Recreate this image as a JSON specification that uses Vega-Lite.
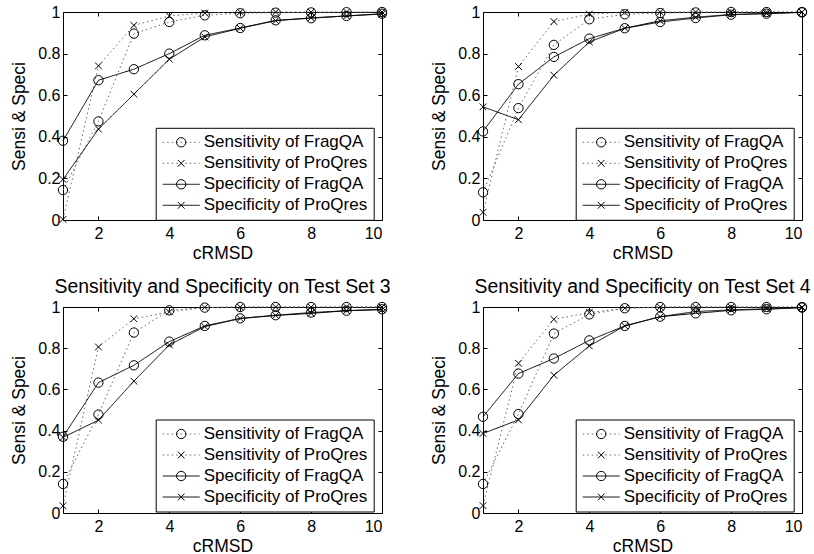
{
  "$schema": "https://vega.github.io/schema/vega-lite/v6.json",
  "background": "white",
  "padding": {"left": 10, "top": 3, "right": 0, "bottom": 0},
  "datasets": {
    "set1": [
      {"cRMSD": 1, "Sensitivity of FragQA": 0.144, "Sensitivity of ProQres": 0.003, "Specificity of FragQA": 0.381, "Specificity of ProQres": 0.195},
      {"cRMSD": 2, "Sensitivity of FragQA": 0.474, "Sensitivity of ProQres": 0.741, "Specificity of FragQA": 0.672, "Specificity of ProQres": 0.437},
      {"cRMSD": 3, "Sensitivity of FragQA": 0.896, "Sensitivity of ProQres": 0.936, "Specificity of FragQA": 0.725, "Specificity of ProQres": 0.605},
      {"cRMSD": 4, "Sensitivity of FragQA": 0.952, "Sensitivity of ProQres": 0.981, "Specificity of FragQA": 0.8, "Specificity of ProQres": 0.773},
      {"cRMSD": 5, "Sensitivity of FragQA": 0.984, "Sensitivity of ProQres": 0.995, "Specificity of FragQA": 0.888, "Specificity of ProQres": 0.88},
      {"cRMSD": 6, "Sensitivity of FragQA": 0.994, "Sensitivity of ProQres": 1.0, "Specificity of FragQA": 0.923, "Specificity of ProQres": 0.922},
      {"cRMSD": 7, "Sensitivity of FragQA": 0.997, "Sensitivity of ProQres": 1.0, "Specificity of FragQA": 0.96, "Specificity of ProQres": 0.958},
      {"cRMSD": 8, "Sensitivity of FragQA": 0.998, "Sensitivity of ProQres": 1.0, "Specificity of FragQA": 0.97, "Specificity of ProQres": 0.972},
      {"cRMSD": 9, "Sensitivity of FragQA": 0.999, "Sensitivity of ProQres": 1.0, "Specificity of FragQA": 0.981, "Specificity of ProQres": 0.981},
      {"cRMSD": 10, "Sensitivity of FragQA": 1.0, "Sensitivity of ProQres": 1.0, "Specificity of FragQA": 0.992, "Specificity of ProQres": 0.99}
    ],
    "set2": [
      {"cRMSD": 1, "Sensitivity of FragQA": 0.133, "Sensitivity of ProQres": 0.037, "Specificity of FragQA": 0.426, "Specificity of ProQres": 0.544},
      {"cRMSD": 2, "Sensitivity of FragQA": 0.538, "Sensitivity of ProQres": 0.738, "Specificity of FragQA": 0.653, "Specificity of ProQres": 0.482},
      {"cRMSD": 3, "Sensitivity of FragQA": 0.842, "Sensitivity of ProQres": 0.954, "Specificity of FragQA": 0.784, "Specificity of ProQres": 0.696},
      {"cRMSD": 4, "Sensitivity of FragQA": 0.965, "Sensitivity of ProQres": 0.99, "Specificity of FragQA": 0.872, "Specificity of ProQres": 0.856},
      {"cRMSD": 5, "Sensitivity of FragQA": 0.989, "Sensitivity of ProQres": 0.998, "Specificity of FragQA": 0.922, "Specificity of ProQres": 0.922},
      {"cRMSD": 6, "Sensitivity of FragQA": 0.995, "Sensitivity of ProQres": 1.0, "Specificity of FragQA": 0.952, "Specificity of ProQres": 0.958},
      {"cRMSD": 7, "Sensitivity of FragQA": 0.998, "Sensitivity of ProQres": 1.0, "Specificity of FragQA": 0.971, "Specificity of ProQres": 0.975},
      {"cRMSD": 8, "Sensitivity of FragQA": 1.0, "Sensitivity of ProQres": 1.0, "Specificity of FragQA": 0.987, "Specificity of ProQres": 0.988},
      {"cRMSD": 9, "Sensitivity of FragQA": 1.0, "Sensitivity of ProQres": 1.0, "Specificity of FragQA": 0.992, "Specificity of ProQres": 0.993},
      {"cRMSD": 10, "Sensitivity of FragQA": 1.0, "Sensitivity of ProQres": 1.0, "Specificity of FragQA": 0.998, "Specificity of ProQres": 0.999}
    ],
    "set3": [
      {"cRMSD": 1, "Sensitivity of FragQA": 0.141, "Sensitivity of ProQres": 0.035, "Specificity of FragQA": 0.37, "Specificity of ProQres": 0.367},
      {"cRMSD": 2, "Sensitivity of FragQA": 0.478, "Sensitivity of ProQres": 0.806, "Specificity of FragQA": 0.633, "Specificity of ProQres": 0.451},
      {"cRMSD": 3, "Sensitivity of FragQA": 0.876, "Sensitivity of ProQres": 0.943, "Specificity of FragQA": 0.717, "Specificity of ProQres": 0.64},
      {"cRMSD": 4, "Sensitivity of FragQA": 0.984, "Sensitivity of ProQres": 0.976, "Specificity of FragQA": 0.832, "Specificity of ProQres": 0.816},
      {"cRMSD": 5, "Sensitivity of FragQA": 0.997, "Sensitivity of ProQres": 0.998, "Specificity of FragQA": 0.908, "Specificity of ProQres": 0.905},
      {"cRMSD": 6, "Sensitivity of FragQA": 1.0, "Sensitivity of ProQres": 1.0, "Specificity of FragQA": 0.945, "Specificity of ProQres": 0.944},
      {"cRMSD": 7, "Sensitivity of FragQA": 1.0, "Sensitivity of ProQres": 1.0, "Specificity of FragQA": 0.96, "Specificity of ProQres": 0.959},
      {"cRMSD": 8, "Sensitivity of FragQA": 1.0, "Sensitivity of ProQres": 1.0, "Specificity of FragQA": 0.973, "Specificity of ProQres": 0.969},
      {"cRMSD": 9, "Sensitivity of FragQA": 1.0, "Sensitivity of ProQres": 1.0, "Specificity of FragQA": 0.982, "Specificity of ProQres": 0.982},
      {"cRMSD": 10, "Sensitivity of FragQA": 1.0, "Sensitivity of ProQres": 1.0, "Specificity of FragQA": 0.989, "Specificity of ProQres": 0.987}
    ],
    "set4": [
      {"cRMSD": 1, "Sensitivity of FragQA": 0.141, "Sensitivity of ProQres": 0.036, "Specificity of FragQA": 0.467, "Specificity of ProQres": 0.386},
      {"cRMSD": 2, "Sensitivity of FragQA": 0.48, "Sensitivity of ProQres": 0.727, "Specificity of FragQA": 0.677, "Specificity of ProQres": 0.452},
      {"cRMSD": 3, "Sensitivity of FragQA": 0.871, "Sensitivity of ProQres": 0.94, "Specificity of FragQA": 0.75, "Specificity of ProQres": 0.669},
      {"cRMSD": 4, "Sensitivity of FragQA": 0.964, "Sensitivity of ProQres": 0.973, "Specificity of FragQA": 0.838, "Specificity of ProQres": 0.811},
      {"cRMSD": 5, "Sensitivity of FragQA": 0.994, "Sensitivity of ProQres": 0.994, "Specificity of FragQA": 0.908, "Specificity of ProQres": 0.908},
      {"cRMSD": 6, "Sensitivity of FragQA": 1.0, "Sensitivity of ProQres": 1.0, "Specificity of FragQA": 0.953, "Specificity of ProQres": 0.953},
      {"cRMSD": 7, "Sensitivity of FragQA": 1.0, "Sensitivity of ProQres": 1.0, "Specificity of FragQA": 0.969, "Specificity of ProQres": 0.978},
      {"cRMSD": 8, "Sensitivity of FragQA": 1.0, "Sensitivity of ProQres": 1.0, "Specificity of FragQA": 0.984, "Specificity of ProQres": 0.986},
      {"cRMSD": 9, "Sensitivity of FragQA": 1.0, "Sensitivity of ProQres": 1.0, "Specificity of FragQA": 0.989, "Specificity of ProQres": 0.991},
      {"cRMSD": 10, "Sensitivity of FragQA": 1.0, "Sensitivity of ProQres": 1.0, "Specificity of FragQA": 0.997, "Specificity of ProQres": 0.997}
    ]
  },
  "columns": 2,
  "spacing": {"row": 87, "column": 101},
  "bounds": "flush",
  "resolve": {
    "scale": {"color": "independent", "shape": "independent", "strokeDash": "independent"},
    "legend": {"color": "independent", "shape": "independent", "strokeDash": "independent"}
  },
  "concat": [
    {
      "width": 319, "height": 208,
      "data": {"name": "set1"},
      "transform": [{"fold": ["Sensitivity of FragQA", "Sensitivity of ProQres", "Specificity of FragQA", "Specificity of ProQres"], "as": ["series", "value"]}],
      "resolve": {"axis": {"x": "independent", "y": "independent"}},
      "layer": [
        {
          "mark": {"type": "line", "strokeWidth": 1},
          "encoding": {
            "x": {"field": "cRMSD", "type": "quantitative", "scale": {"domain": [1, 10], "nice": false, "zero": false}, "axis": {"orient": "bottom", "title": "cRMSD", "values": [2, 4, 6, 8, 10]}},
            "y": {"field": "value", "type": "quantitative", "scale": {"domain": [0, 1], "nice": false}, "axis": {"orient": "left", "title": "Sensi & Speci", "values": [0, 0.2, 0.4, 0.6, 0.8, 1], "format": "~g"}},
            "color": {"field": "series", "type": "nominal", "scale": {"domain": ["Sensitivity of FragQA", "Sensitivity of ProQres", "Specificity of FragQA", "Specificity of ProQres"], "range": ["#666666", "#666666", "#000000", "#000000"]}, "legend": {"orient": "none", "legendX": 92.7, "legendY": 115.8, "title": null, "padding": 6, "rowPadding": 3, "symbolType": "M-2.3125,0H2.3125", "symbolSize": 256, "symbolStrokeWidth": 1, "symbolOffset": 11, "labelOffset": 14, "labelFontSize": 17, "labelLimit": 0, "strokeColor": "black", "fillColor": "white"}},
            "strokeDash": {"field": "series", "type": "nominal", "scale": {"domain": ["Sensitivity of FragQA", "Sensitivity of ProQres", "Specificity of FragQA", "Specificity of ProQres"], "range": [[1.5, 3], [1.5, 3], [1, 0], [1, 0]]}, "legend": {"orient": "none", "legendX": 92.7, "legendY": 115.8, "title": null, "padding": 6, "rowPadding": 3, "symbolType": "M-2.3125,0H2.3125", "symbolSize": 256, "symbolStrokeWidth": 1, "symbolOffset": 11, "labelOffset": 14, "labelFontSize": 17, "labelLimit": 0, "strokeColor": "black", "fillColor": "white"}}
          }
        },
        {
          "mark": {"type": "point", "filled": false, "size": 87, "strokeWidth": 1, "color": "black", "opacity": 1},
          "encoding": {
            "x": {"field": "cRMSD", "type": "quantitative", "axis": {"orient": "top", "labels": false, "title": null, "values": [2, 4, 6, 8]}},
            "y": {"field": "value", "type": "quantitative", "axis": {"orient": "right", "labels": false, "title": null, "values": [0.2, 0.4, 0.6, 0.8]}},
            "shape": {"field": "series", "type": "nominal", "scale": {"range": ["circle", "M-0.72,-0.72L0.72,0.72M-0.72,0.72L0.72,-0.72", "circle", "M-0.72,-0.72L0.72,0.72M-0.72,0.72L0.72,-0.72"]}, "legend": {"orient": "none", "legendX": 92.7, "legendY": 115.8, "title": null, "padding": 6, "rowPadding": 3, "symbolSize": 87, "symbolStrokeWidth": 1, "symbolStrokeColor": "black", "symbolFillColor": "transparent", "symbolOffset": 11, "labelOffset": 14, "labelFontSize": 17, "labelExpr": "''"}}
          }
        }
      ]
    },
    {
      "width": 319, "height": 208,
      "data": {"name": "set2"},
      "transform": [{"fold": ["Sensitivity of FragQA", "Sensitivity of ProQres", "Specificity of FragQA", "Specificity of ProQres"], "as": ["series", "value"]}],
      "resolve": {"axis": {"x": "independent", "y": "independent"}},
      "layer": [
        {
          "mark": {"type": "line", "strokeWidth": 1},
          "encoding": {
            "x": {"field": "cRMSD", "type": "quantitative", "scale": {"domain": [1, 10], "nice": false, "zero": false}, "axis": {"orient": "bottom", "title": "cRMSD", "values": [2, 4, 6, 8, 10]}},
            "y": {"field": "value", "type": "quantitative", "scale": {"domain": [0, 1], "nice": false}, "axis": {"orient": "left", "title": "Sensi & Speci", "values": [0, 0.2, 0.4, 0.6, 0.8, 1], "format": "~g"}},
            "color": {"field": "series", "type": "nominal", "scale": {"domain": ["Sensitivity of FragQA", "Sensitivity of ProQres", "Specificity of FragQA", "Specificity of ProQres"], "range": ["#666666", "#666666", "#000000", "#000000"]}, "legend": {"orient": "none", "legendX": 92.7, "legendY": 115.8, "title": null, "padding": 6, "rowPadding": 3, "symbolType": "M-2.3125,0H2.3125", "symbolSize": 256, "symbolStrokeWidth": 1, "symbolOffset": 11, "labelOffset": 14, "labelFontSize": 17, "labelLimit": 0, "strokeColor": "black", "fillColor": "white"}},
            "strokeDash": {"field": "series", "type": "nominal", "scale": {"domain": ["Sensitivity of FragQA", "Sensitivity of ProQres", "Specificity of FragQA", "Specificity of ProQres"], "range": [[1.5, 3], [1.5, 3], [1, 0], [1, 0]]}, "legend": {"orient": "none", "legendX": 92.7, "legendY": 115.8, "title": null, "padding": 6, "rowPadding": 3, "symbolType": "M-2.3125,0H2.3125", "symbolSize": 256, "symbolStrokeWidth": 1, "symbolOffset": 11, "labelOffset": 14, "labelFontSize": 17, "labelLimit": 0, "strokeColor": "black", "fillColor": "white"}}
          }
        },
        {
          "mark": {"type": "point", "filled": false, "size": 87, "strokeWidth": 1, "color": "black", "opacity": 1},
          "encoding": {
            "x": {"field": "cRMSD", "type": "quantitative", "axis": {"orient": "top", "labels": false, "title": null, "values": [2, 4, 6, 8]}},
            "y": {"field": "value", "type": "quantitative", "axis": {"orient": "right", "labels": false, "title": null, "values": [0.2, 0.4, 0.6, 0.8]}},
            "shape": {"field": "series", "type": "nominal", "scale": {"range": ["circle", "M-0.72,-0.72L0.72,0.72M-0.72,0.72L0.72,-0.72", "circle", "M-0.72,-0.72L0.72,0.72M-0.72,0.72L0.72,-0.72"]}, "legend": {"orient": "none", "legendX": 92.7, "legendY": 115.8, "title": null, "padding": 6, "rowPadding": 3, "symbolSize": 87, "symbolStrokeWidth": 1, "symbolStrokeColor": "black", "symbolFillColor": "transparent", "symbolOffset": 11, "labelOffset": 14, "labelFontSize": 17, "labelExpr": "''"}}
          }
        }
      ]
    },
    {
      "width": 319, "height": 206,
      "title": {"text": "Sensitivity and Specificity on Test Set 3"},
      "data": {"name": "set3"},
      "transform": [{"fold": ["Sensitivity of FragQA", "Sensitivity of ProQres", "Specificity of FragQA", "Specificity of ProQres"], "as": ["series", "value"]}],
      "resolve": {"axis": {"x": "independent", "y": "independent"}},
      "layer": [
        {
          "mark": {"type": "line", "strokeWidth": 1},
          "encoding": {
            "x": {"field": "cRMSD", "type": "quantitative", "scale": {"domain": [1, 10], "nice": false, "zero": false}, "axis": {"orient": "bottom", "title": "cRMSD", "values": [2, 4, 6, 8, 10]}},
            "y": {"field": "value", "type": "quantitative", "scale": {"domain": [0, 1], "nice": false}, "axis": {"orient": "left", "title": "Sensi & Speci", "values": [0, 0.2, 0.4, 0.6, 0.8, 1], "format": "~g"}},
            "color": {"field": "series", "type": "nominal", "scale": {"domain": ["Sensitivity of FragQA", "Sensitivity of ProQres", "Specificity of FragQA", "Specificity of ProQres"], "range": ["#666666", "#666666", "#000000", "#000000"]}, "legend": {"orient": "none", "legendX": 92.7, "legendY": 112.5, "title": null, "padding": 6, "rowPadding": 3, "symbolType": "M-2.3125,0H2.3125", "symbolSize": 256, "symbolStrokeWidth": 1, "symbolOffset": 11, "labelOffset": 14, "labelFontSize": 17, "labelLimit": 0, "strokeColor": "black", "fillColor": "white"}},
            "strokeDash": {"field": "series", "type": "nominal", "scale": {"domain": ["Sensitivity of FragQA", "Sensitivity of ProQres", "Specificity of FragQA", "Specificity of ProQres"], "range": [[1.5, 3], [1.5, 3], [1, 0], [1, 0]]}, "legend": {"orient": "none", "legendX": 92.7, "legendY": 112.5, "title": null, "padding": 6, "rowPadding": 3, "symbolType": "M-2.3125,0H2.3125", "symbolSize": 256, "symbolStrokeWidth": 1, "symbolOffset": 11, "labelOffset": 14, "labelFontSize": 17, "labelLimit": 0, "strokeColor": "black", "fillColor": "white"}}
          }
        },
        {
          "mark": {"type": "point", "filled": false, "size": 87, "strokeWidth": 1, "color": "black", "opacity": 1},
          "encoding": {
            "x": {"field": "cRMSD", "type": "quantitative", "axis": {"orient": "top", "labels": false, "title": null, "values": [2, 4, 6, 8]}},
            "y": {"field": "value", "type": "quantitative", "axis": {"orient": "right", "labels": false, "title": null, "values": [0.2, 0.4, 0.6, 0.8]}},
            "shape": {"field": "series", "type": "nominal", "scale": {"range": ["circle", "M-0.72,-0.72L0.72,0.72M-0.72,0.72L0.72,-0.72", "circle", "M-0.72,-0.72L0.72,0.72M-0.72,0.72L0.72,-0.72"]}, "legend": {"orient": "none", "legendX": 92.7, "legendY": 112.5, "title": null, "padding": 6, "rowPadding": 3, "symbolSize": 87, "symbolStrokeWidth": 1, "symbolStrokeColor": "black", "symbolFillColor": "transparent", "symbolOffset": 11, "labelOffset": 14, "labelFontSize": 17, "labelExpr": "''"}}
          }
        }
      ]
    },
    {
      "width": 319, "height": 206,
      "title": {"text": "Sensitivity and Specificity on Test Set 4"},
      "data": {"name": "set4"},
      "transform": [{"fold": ["Sensitivity of FragQA", "Sensitivity of ProQres", "Specificity of FragQA", "Specificity of ProQres"], "as": ["series", "value"]}],
      "resolve": {"axis": {"x": "independent", "y": "independent"}},
      "layer": [
        {
          "mark": {"type": "line", "strokeWidth": 1},
          "encoding": {
            "x": {"field": "cRMSD", "type": "quantitative", "scale": {"domain": [1, 10], "nice": false, "zero": false}, "axis": {"orient": "bottom", "title": "cRMSD", "values": [2, 4, 6, 8, 10]}},
            "y": {"field": "value", "type": "quantitative", "scale": {"domain": [0, 1], "nice": false}, "axis": {"orient": "left", "title": "Sensi & Speci", "values": [0, 0.2, 0.4, 0.6, 0.8, 1], "format": "~g"}},
            "color": {"field": "series", "type": "nominal", "scale": {"domain": ["Sensitivity of FragQA", "Sensitivity of ProQres", "Specificity of FragQA", "Specificity of ProQres"], "range": ["#666666", "#666666", "#000000", "#000000"]}, "legend": {"orient": "none", "legendX": 92.7, "legendY": 112.5, "title": null, "padding": 6, "rowPadding": 3, "symbolType": "M-2.3125,0H2.3125", "symbolSize": 256, "symbolStrokeWidth": 1, "symbolOffset": 11, "labelOffset": 14, "labelFontSize": 17, "labelLimit": 0, "strokeColor": "black", "fillColor": "white"}},
            "strokeDash": {"field": "series", "type": "nominal", "scale": {"domain": ["Sensitivity of FragQA", "Sensitivity of ProQres", "Specificity of FragQA", "Specificity of ProQres"], "range": [[1.5, 3], [1.5, 3], [1, 0], [1, 0]]}, "legend": {"orient": "none", "legendX": 92.7, "legendY": 112.5, "title": null, "padding": 6, "rowPadding": 3, "symbolType": "M-2.3125,0H2.3125", "symbolSize": 256, "symbolStrokeWidth": 1, "symbolOffset": 11, "labelOffset": 14, "labelFontSize": 17, "labelLimit": 0, "strokeColor": "black", "fillColor": "white"}}
          }
        },
        {
          "mark": {"type": "point", "filled": false, "size": 87, "strokeWidth": 1, "color": "black", "opacity": 1},
          "encoding": {
            "x": {"field": "cRMSD", "type": "quantitative", "axis": {"orient": "top", "labels": false, "title": null, "values": [2, 4, 6, 8]}},
            "y": {"field": "value", "type": "quantitative", "axis": {"orient": "right", "labels": false, "title": null, "values": [0.2, 0.4, 0.6, 0.8]}},
            "shape": {"field": "series", "type": "nominal", "scale": {"range": ["circle", "M-0.72,-0.72L0.72,0.72M-0.72,0.72L0.72,-0.72", "circle", "M-0.72,-0.72L0.72,0.72M-0.72,0.72L0.72,-0.72"]}, "legend": {"orient": "none", "legendX": 92.7, "legendY": 112.5, "title": null, "padding": 6, "rowPadding": 3, "symbolSize": 87, "symbolStrokeWidth": 1, "symbolStrokeColor": "black", "symbolFillColor": "transparent", "symbolOffset": 11, "labelOffset": 14, "labelFontSize": 17, "labelExpr": "''"}}
          }
        }
      ]
    }
  ],
  "config": {
    "font": "Liberation Sans",
    "view": {"stroke": "black", "strokeWidth": 1},
    "axis": {
      "grid": false, "domain": false, "ticks": true,
      "tickColor": "black", "tickSize": -4, "tickWidth": 1,
      "labelColor": "black", "labelFontSize": 16, "labelFont": "Liberation Sans",
      "titleFont": "Liberation Sans", "titleFontSize": 17.5, "titleFontWeight": "normal", "titleColor": "black"
    },
    "axisBottom": {"labelPadding": 9, "titlePadding": 3},
    "axisLeft": {"labelPadding": 7, "titlePadding": 9},
    "legend": {"labelFont": "Liberation Sans", "labelColor": "black", "labelBaseline": "middle"},
    "title": {"font": "Liberation Sans", "fontSize": 19.4, "fontWeight": "normal", "color": "black", "frame": "group", "anchor": "middle", "offset": 2}
  }
}
